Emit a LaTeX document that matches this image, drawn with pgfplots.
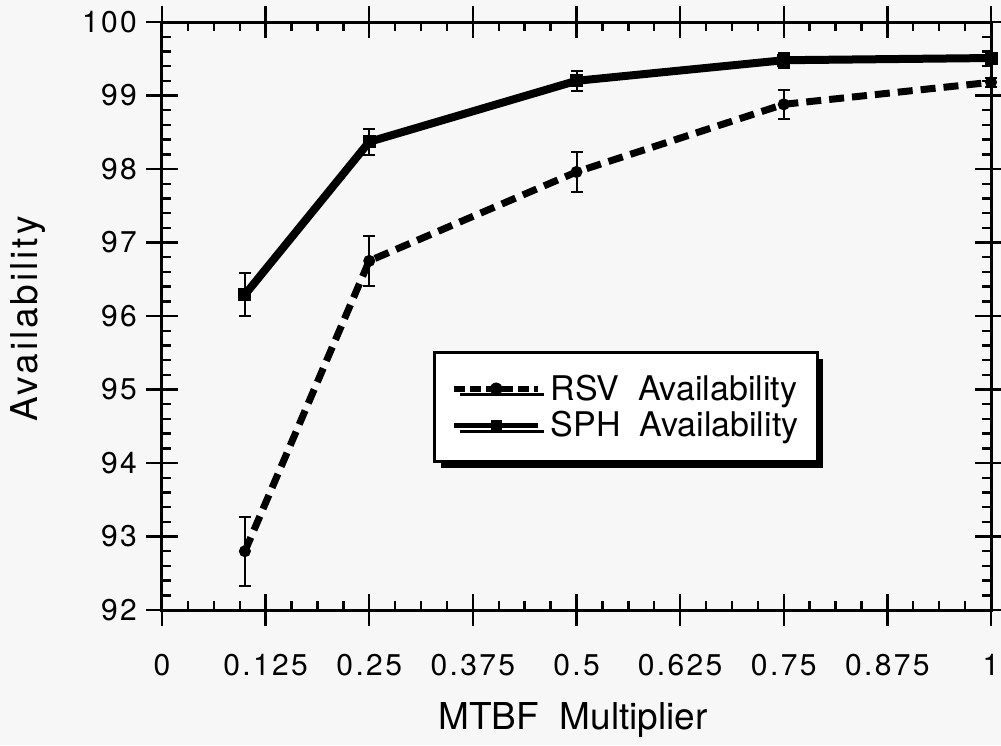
\documentclass[border=0pt]{standalone}
\usepackage{fontspec}
\setmainfont{TeX Gyre Heros}
\newfontfamily\tickfont[LetterSpace=8]{TeX Gyre Heros}
\newfontfamily\xlabfont[LetterSpace=0]{TeX Gyre Heros}
\newfontfamily\ylabfont[LetterSpace=8]{TeX Gyre Heros}
\newfontfamily\legfont[LetterSpace=0]{TeX Gyre Heros}
\usepackage{pgfplots}
\pgfplotsset{compat=1.18}
\usetikzlibrary{shadows}
\definecolor{bg}{HTML}{F7F7F7}
\pgfplotsset{
  rsvleg/.style={legend image code/.code={\draw[black, line width=2.6pt, dash pattern=on 5.5pt off 2.5pt, mark=*, mark size=3pt, mark options={solid, line width=0.3pt}, mark repeat=2, mark phase=2] plot coordinates {(0pt,0pt) (21pt,0pt) (42pt,0pt)};}},
  sphleg/.style={legend image code/.code={\draw[black, line width=2.6pt, mark=square*, mark size=2.4pt, mark options={solid, line width=0.3pt}, mark repeat=2, mark phase=2] plot coordinates {(0pt,0pt) (21pt,0pt) (42pt,0pt)};}},
}
\pgfplotstableread{
x y e
0.1 92.80 0.47
0.25 96.75 0.34
0.5 97.96 0.27
0.75 98.88 0.20
1.0 99.18 0.06
}\rsv
\pgfplotstableread{
x y e
0.1 96.29 0.29
0.25 98.37 0.18
0.5 99.20 0.14
0.75 99.48 0.10
1.0 99.51 0.05
}\sph
\begin{document}
\begin{tikzpicture}[x=1pt,y=1pt]
\useasboundingbox[fill=bg] (-81,-67.5) rectangle (419.5,305);
\begin{axis}[
  at={(0,0)}, anchor=south west,
  scale only axis, width=414.5pt, height=294pt,
  xmin=0, xmax=1, ymin=92, ymax=100,
  clip=false,
  xtick={0,0.125,0.25,0.375,0.5,0.625,0.75,0.875,1},
  xticklabels={0,0.125,0.25,0.375,0.5,0.625,0.75,0.875,1},
  ytick={92,93,94,95,96,97,98,99,100},
  yticklabels={92,93,94,95,96,97,98,99,100},
  minor x tick num=3, minor y tick num=4,
  xtick pos=both, ytick pos=both,
  xticklabel pos=lower, yticklabel pos=left,
  tick align=inside,
  major tick length=8pt, minor tick length=4.5pt,
  every tick/.style={line width=1.2pt, black},
  axis line style={line width=1.5pt},
  extra x ticks={0,0.125,0.25,0.375,0.5,0.625,0.75,0.875,1},
  extra x tick labels={},
  extra x tick style={tick align=outside},
  extra y ticks={92,93,94,95,96,97,98,99,100},
  extra y tick labels={},
  extra y tick style={tick align=outside},
  /pgf/number format/assume math mode=true,
  xticklabel style={font=\tickfont\fontsize{15}{18}\selectfont, anchor=base, yshift=-32.5pt},
  yticklabel style={font=\tickfont\fontsize{15}{18}\selectfont, anchor=east, xshift=-9pt},
  xlabel={MTBF\ \ Multiplier},
  ylabel={Availability},
  x label style={font=\xlabfont\fontsize{18.5}{22}\selectfont, at={(axis description cs:0.496,-0.204)}, anchor=base},
  y label style={font=\ylabfont\fontsize{18.5}{22}\selectfont, at={(axis description cs:-0.1617,0.495)}, rotate=0, anchor=center},
  legend style={at={(0.327,0.25)}, anchor=south west, draw=black, line width=1.5pt, fill=white,
    drop shadow={shadow xshift=3pt, shadow yshift=-3pt, fill=black, opacity=1},
    font=\legfont\fontsize{17}{20}\selectfont, inner xsep=8.5pt, inner ysep=10pt,
    nodes={inner sep=1pt}, row sep=2pt, column sep=4pt},
  legend cell align=left,
]
\addplot[forget plot, black, line width=3.5pt, dash pattern=on 7.5pt off 4pt, mark=*, mark size=2.75pt, mark options={solid, line width=0.5pt},
  error bars/.cd, y dir=both, y explicit, error bar style={line width=1pt, solid}, error mark options={rotate=90, mark size=3pt, line width=1pt, solid}]
  table[x=x, y=y, y error=e] {\rsv};
\addplot[forget plot, black, line width=4pt, mark=square*, mark size=3pt, mark options={solid, line width=0.5pt},
  error bars/.cd, y dir=both, y explicit, error bar style={line width=1pt, solid}, error mark options={rotate=90, mark size=3pt, line width=1pt, solid}]
  table[x=x, y=y, y error=e] {\sph};
\addlegendimage{rsvleg}
\addlegendentry{RSV\ \ Availability}
\addlegendimage{sphleg}
\addlegendentry{SPH\ \ Availability}
\end{axis}
\end{tikzpicture}
\end{document}
